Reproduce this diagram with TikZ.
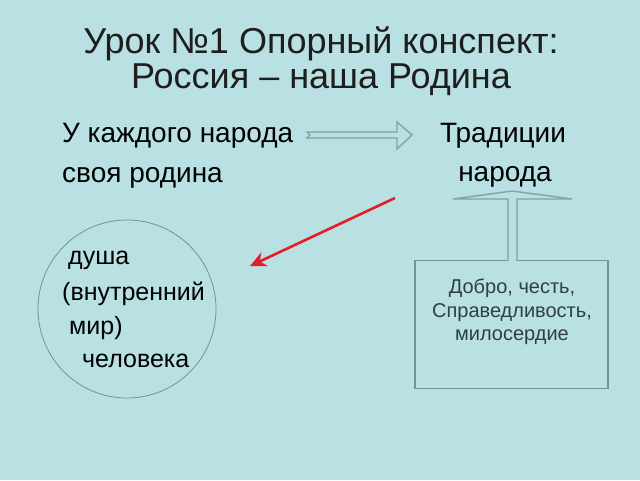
\documentclass[tikz,border=0pt]{standalone}
\usepackage{fontspec}
\setmainfont{Liberation Sans}
\usetikzlibrary{arrows.meta}

\definecolor{bg}{RGB}{185,224,227}
\definecolor{hollow}{RGB}{128,164,168}
\definecolor{boxline}{RGB}{118,146,150}
\definecolor{boxtext}{RGB}{48,64,64}
\definecolor{title}{RGB}{30,30,30}
\definecolor{redarrow}{RGB}{228,30,38}

\tikzset{
    titletext/.style={anchor=base, inner sep=0pt, text=title, font=\fontsize{36}{40}\selectfont},
    bodytext/.style={anchor=base west, inner sep=0pt, font=\fontsize{28}{32}\selectfont},
    soultext/.style={anchor=base west, inner sep=0pt, font=\fontsize{25}{30}\selectfont},
    valuetext/.style={align=center, text=boxtext, font=\fontsize{20}{23.5}\selectfont},
    hollowarrow/.style={draw=hollow, line width=1.4pt, fill=bg, line join=miter},
}

\begin{document}
\begin{tikzpicture}[x=1pt, y=-1pt]
        \fill[bg] (0, 0) rectangle (640, 480);
        \useasboundingbox (0, 0) rectangle (640, 480);

        \node[titletext] at (321, 53)       (t1)  {Урок №1 Опорный конспект:};
        \node[titletext] at (321, 88)       (t2)  {Россия – наша Родина};

        \node[bodytext] at (62, 142)        (u)    {У каждого народа};
        \node[bodytext] at (62, 182)        (rod)  {своя родина};
        \node[anchor=base, inner sep=0pt, font=\fontsize{28}{32}\selectfont] at (503, 142) (trad) {Традиции};
        \node[anchor=base, inner sep=0pt, font=\fontsize{28}{32}\selectfont] at (505, 181) (nar)  {народа};

        \node[draw=boxline, line width=0.8pt, circle, minimum size=178pt] at (127, 309) (soul) {};
        \node[soultext] at (68, 264)        (s1)  {душа};
        \node[soultext] at (62, 300)        (s2)  {(внутренний};
        \node[soultext] at (69, 334)        (s3)  {мир)};
        \node[soultext] at (82, 367)        (s4)  {человека};

        \node[draw=boxline, line width=1.2pt, minimum width=193pt, minimum height=128pt] at (511.5, 324.5) (val) {};
        \node[valuetext] at (512, 312)      (vt)  {Добро, честь,\\Справедливость,\\милосердие};

        % double arrow
        \coordinate (a1) at (307, 135);
        \coordinate (a2) at (412, 135);
        \draw[hollowarrow] (a1) ++(0, -3) -- (397, 132) -- (397, 122) -- (a2) -- (397, 149)
            -- (397, 138) -- (307, 138) -- (310, 135) -- cycle;

        % up arrow into the box
        \coordinate (b1) at (512, 191);
        \fill[bg] (508, 262.5) -- (508, 199) -- (453, 199) -- (b1) -- (572, 199) -- (517, 199) -- (517, 262.5) -- cycle;
        \draw[hollowarrow, fill=none] (508, 261) -- (508, 199) -- (453, 199) -- (b1) -- (572, 199)
            -- (517, 199) -- (517, 261);

        % red arrow
        \coordinate (r1) at (395, 198);
        \coordinate (r2) at (250, 266);
        \draw[redarrow, line width=2.6pt, -{Stealth[length=16pt, width=15pt]}] (r1) -- (r2);
    \end{tikzpicture}
\end{document}
